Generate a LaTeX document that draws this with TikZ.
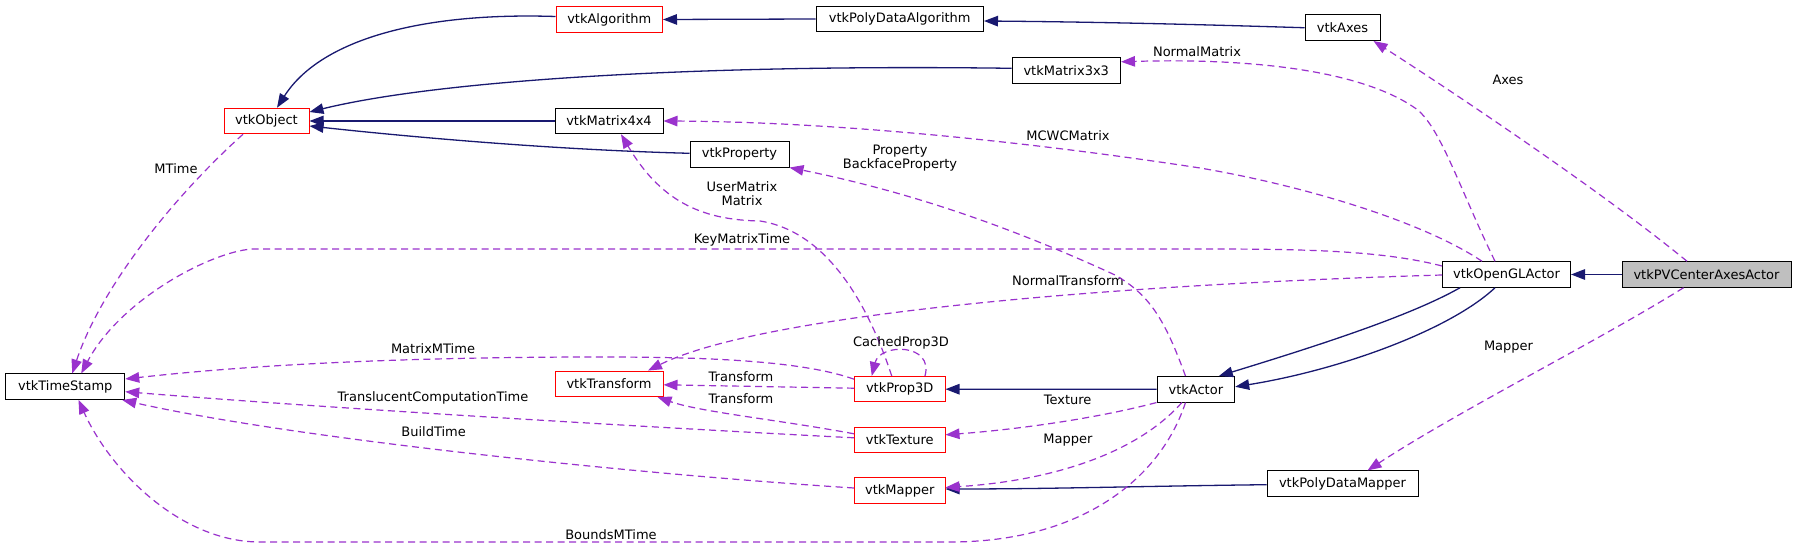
\documentclass[tikz,border=0pt]{standalone}
\usepackage{fontspec}
\setmainfont{DejaVu Sans}
\usetikzlibrary{arrows.meta}
\definecolor{navyc}{HTML}{191970}
\definecolor{purp}{HTML}{9A32CD}
\definecolor{grayfill}{HTML}{BFBFBF}
\begin{document}
\begin{tikzpicture}[x=1pt,y=-1pt,
  font=\fontsize{13}{14}\selectfont,
  cls/.style={draw=black, line width=1pt, fill=white, minimum height=25.5pt, inner sep=0pt, text=black},
  redcls/.style={cls, draw=red},
  inh/.style={draw=navyc, line width=1.3pt, -{Triangle[length=14pt,width=10.5pt]}},
  use/.style={draw=purp, line width=1.2pt, dash pattern=on 7pt off 4.5pt, -{Triangle[length=14pt,width=10.5pt]}},
  lbl/.style={text=black, inner sep=0pt, align=center}]
\fill[white] (0,0) rectangle (1797,548);
\useasboundingbox (0,0) rectangle (1797,548);
% nodes
\node[cls, fill=grayfill, minimum width=169pt] (PV) at (1706.5,274.5) {vtkPVCenterAxesActor};
\node[cls, minimum width=128pt] (OGL) at (1506.5,274.5) {vtkOpenGLActor};
\node[cls, minimum width=75pt] (Axes) at (1342.5,27.75) {vtkAxes};
\node[cls, minimum width=167.5pt] (PDA) at (899.75,19) {vtkPolyDataAlgorithm};
\node[redcls, minimum width=106.5pt] (Alg) at (609.25,19.5) {vtkAlgorithm};
\node[cls, minimum width=108.5pt] (M3) at (1066.25,70.3) {vtkMatrix3x3};
\node[redcls, minimum width=85pt] (Obj) at (266.5,121) {vtkObject};
\node[cls, minimum width=108pt] (M4) at (609,121) {vtkMatrix4x4};
\node[cls, minimum width=99pt] (Prop) at (739.5,154.3) {vtkProperty};
\node[cls, minimum width=119pt] (TS) at (65.25,386.7) {vtkTimeStamp};
\node[redcls, minimum width=108pt] (Tr) at (609,383.8) {vtkTransform};
\node[redcls, minimum width=90.5pt] (P3D) at (899.75,389.2) {vtkProp3D};
\node[redcls, minimum width=90.5pt] (Tex) at (899.75,439.8) {vtkTexture};
\node[redcls, minimum width=90.5pt] (Map) at (899.75,490.5) {vtkMapper};
\node[cls, minimum width=77.7pt] (Act) at (1195.85,389.3) {vtkActor};
\node[cls, minimum width=151pt] (PDM) at (1342.5,483.7) {vtkPolyDataMapper};
% inheritance edges
\draw[inh] ([yshift=3pt]Alg.west) .. controls (420,12) and (320,40) .. ([xshift=10.5pt]Obj.north);
\draw[inh] ([yshift=2pt]M3.west) .. controls (700,64) and (440,80) .. ([yshift=9pt]Obj.east);
\draw[inh] (M4.west) -- (Obj.east);
\draw[inh] ([yshift=1pt]Prop.west) .. controls (560,150) and (420,138) .. ([yshift=-5pt]Obj.east);
\draw[inh] (PDA.west) -- (Alg.east);
\draw[inh] (Axes.west) .. controls (1200,24.5) and (1100,22) .. ([yshift=-2pt]PDA.east);
\draw[inh] (PV.west) -- (OGL.east);
\draw[inh] ([xshift=-46.5pt]OGL.south) .. controls (1410,316) and (1320,345) .. ([xshift=23pt]Act.north);
\draw[inh] ([xshift=-11.5pt]OGL.south) .. controls (1450,330) and (1340,370) .. ([yshift=2.5pt]Act.east);
\draw[inh] (Act.west) -- (P3D.east);
\draw[inh] ([yshift=-1pt]PDM.west) .. controls (1150,486) and (1050,489) .. ([yshift=1.5pt]Map.east);
% usage edges
\draw[use] ([xshift=-23.5pt]Obj.south) .. controls (170,200) and (100,290) .. ([xshift=7pt]TS.north);
\node[lbl] (lMTime) at (176,169) {MTime};
\draw[use] ([yshift=8.5pt]OGL.west) .. controls (1380,250) and (1300,249) .. (1200,249) -- (252,249) .. controls (210,252) and (120,300) .. ([xshift=16pt]TS.north);
\node[lbl] (lKey) at (742,240.3) {KeyMatrixTime};
\draw[use] ([yshift=10pt]P3D.west) .. controls (800,360) and (700,357) .. (600,357) .. controls (400,357) and (250,365) .. ([yshift=7.7pt]TS.east);
\node[lbl] (lMMT) at (433,348.3) {MatrixMTime};
\draw[use] ([yshift=2pt]Tex.west) .. controls (700,430) and (350,410) .. ([yshift=-5pt]TS.east);
\node[lbl] (lTCT) at (433,398.3) {TranslucentComputationTime};
\draw[use] ([yshift=2.5pt]Map.west) .. controls (650,475) and (300,440) .. ([xshift=-3pt]TS.south east);
\node[lbl] (lBT) at (433.6,431.3) {BuildTime};
\draw[use] ([xshift=-10.35pt]Act.south) .. controls (1160,480) and (1080,542) .. (950,542) -- (260,542) .. controls (180,542) and (110,470) .. ([xshift=13.25pt]TS.south);
\node[lbl] (lBMT) at (611,534.3) {BoundsMTime};
\draw[use] ([xshift=-11.5pt]OGL.north) .. controls (1460,190) and (1440,125) .. (1415,108) .. controls (1360,70) and (1250,58) .. ([yshift=8.5pt]M3.east);
\node[lbl] (lNM) at (1197,52) {NormalMatrix};
\draw[use] ([xshift=-24.5pt]OGL.north) .. controls (1420,220) and (1300,185) .. (1200,168) .. controls (1050,145) and (850,122) .. (M4.east);
\node[lbl] (lMCWC) at (1068,135.3) {MCWCMatrix};
\draw[use] ([yshift=-0.5pt]OGL.west) .. controls (1100,285) and (760,315) .. ([xshift=39pt]Tr.north);
\node[lbl] (lNT) at (1068,280.3) {NormalTransform};
\draw[use] ([xshift=-19.5pt]PV.north) .. controls (1600,190) and (1450,90) .. ([xshift=-7pt]Axes.south east);
\node[lbl] (lAxes) at (1508,80.3) {Axes};
\draw[use] ([xshift=-23pt]PV.south) .. controls (1600,340) and (1460,410) .. ([xshift=25pt]PDM.north);
\node[lbl] (lMap2) at (1508.5,346.7) {Mapper};
\draw[use] ([xshift=-10.35pt]Act.north) .. controls (1165,320) and (1150,295) .. (1115,275) .. controls (1000,222) and (900,190) .. (Prop.south east);
\node[lbl] (lProp) at (900,157.7) {Property\\BackfaceProperty};
\draw[use] ([xshift=-8pt]P3D.north) .. controls (870,310) and (830,232) .. (760,221) .. controls (700,220) and (660,200) .. ([xshift=12pt]M4.south);
\node[lbl] (lUM) at (742,193.3) {UserMatrix\\Matrix};
\draw[use] ([yshift=1pt]P3D.west) -- ([yshift=-1pt]Tr.east);
\node[lbl] (lTr1) at (741,376.7) {Transform};
\draw[use] ([yshift=6pt]Tex.west) .. controls (780,420) and (700,412) .. ([xshift=48.5pt]Tr.south);
\node[lbl] (lTr2) at (741,398.3) {Transform};
\draw[use] ([xshift=25.25pt]P3D.north) .. controls (934,343) and (880,343) .. ([xshift=-28pt]P3D.north);
\node[lbl] (lCP) at (901,343.3) {CachedProp3D};
\draw[use] (Act.south west) .. controls (1090,420) and (1010,430) .. ([yshift=5pt]Tex.east);
\node[lbl] (lTex) at (1067.6,400.3) {Texture};
\draw[use] ([xshift=-14pt]Act.south) .. controls (1140,450) and (1060,480) .. ([yshift=3pt]Map.east);
\node[lbl] (lMap1) at (1068,439.7) {Mapper};
\end{tikzpicture}
\end{document}
